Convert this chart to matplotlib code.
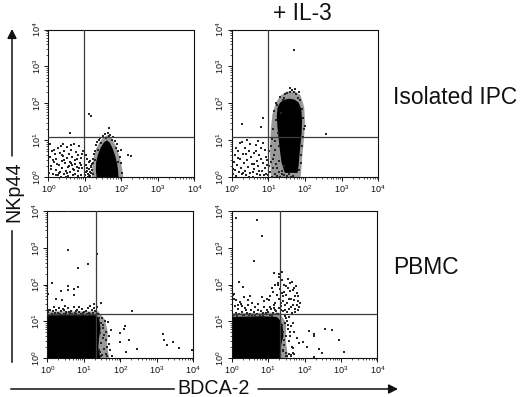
import numpy as np
import matplotlib
matplotlib.use("Agg")
import matplotlib.pyplot as plt
from matplotlib.ticker import LogLocator, FixedLocator, NullFormatter

plt.rcParams['font.family'] = ['Liberation Sans', 'DejaVu Sans']
plt.rcParams['mathtext.fontset'] = 'custom'
plt.rcParams['mathtext.rm'] = 'Liberation Sans'
plt.rcParams['mathtext.default'] = 'regular'

# All coordinates are log10 fluorescence values.
tick_exponents = [0, 1, 2, 3, 4]
x_label = "BDCA-2"
y_label = "NKp44"
top_title = "+ IL-3"
row_labels = ["Isolated IPC", "PBMC"]

a_gate = [0.98, 1.09]
a_core_x = [1.32, 1.3, 1.31, 1.36, 1.43, 1.52, 1.6, 1.68, 1.76, 1.83, 1.88, 1.91, 1.92]
a_core_y = [0.0, 0.2, 0.42, 0.62, 0.8, 0.94, 1.0, 0.94, 0.78, 0.58, 0.38, 0.18, 0.0]
a_halo_x = [1.2, 1.2, 1.24, 1.31, 1.4, 1.51, 1.62, 1.73, 1.85, 1.95, 2.02, 2.05]
a_halo_y = [0.0, 0.25, 0.55, 0.78, 0.95, 1.08, 1.14, 1.06, 0.85, 0.55, 0.25, 0.0]
a_dots_x = [.03, .05, .07, .1, .12, .15, .18, .2, .22, .25, .27, .3, .31, .33, .35, .37, .38, .4, .42, .44, .45, .47, .5, .52, .53, .55, .57, .58, .6, .62, .64, .65, .67, .7, .72, .74, .75, .77, .8, .82, .84, .86, .88, .9, .92, .94,
            .08, .16, .24, .28, .36, .43, .48, .56, .63, .68, .73, .79, .85, .91, .04, .13, .21, .34, .41, .51, .61, .71, .81, .89,
            1.0, 1.02, 1.04, 1.06, 1.08, 1.1, 1.12, 1.14, 1.16, 1.18, 1.2, 1.22, 1.03, 1.07, 1.11, 1.15, 1.19, 1.05, 1.09, 1.13, 1.17, 1.21,
            1.25, 1.22, 1.3, 1.27, 1.33, 1.38, 1.42, 1.49, 1.55, 1.62, 1.7, 1.76, 1.82, 1.87, 1.91, 1.95, 1.98, 2.02, 1.9, 1.85, 1.29, 1.35, 1.45, 1.58, 1.66, 1.74,
            1.12, 1.17, 1.66, 0.59, 2.18, 2.27, 2.0]
a_dots_y = [.12, .55, .3, .72, .08, .42, .62, .2, .5, .78, .05, .34, .66, .15, .85, .45, .25, .58, .1, .7, .38, .18, .52, .82, .28, .04, .64, .42, .13, .75, .33, .56, .22, .9, .47, .1, .68, .29, .6, .16, .86, .4, .06, .53, .24, .72,
            .22, .74, .36, .12, .6, .48, .02, .31, .88, .07, .37, .5, .26, .64, .9, .48, .07, .02, .9, .12, .4, .2, .03, .33,
            .05, .32, .15, .5, .1, .22, .42, .03, .28, .12, .36, .08, .6, .18, .07, .44, .2, .24, .02, .13, .3, .5,
            .62, .38, .88, .7, .95, 1.02, 1.07, 1.12, 1.18, 1.2, 1.15, 1.08, .98, .9, .72, .55, .38, .12, .42, .8, .46, .75, .92, 1.06, 1.12, 1.0,
            1.71, 1.65, 1.33, 1.2, .6, .58, .75]

b_gate = [1.0, 1.09]
b_core_x = [1.45, 1.36, 1.32, 1.28, 1.25, 1.23, 1.25, 1.32, 1.44, 1.58, 1.72, 1.83, 1.9, 1.92, 1.91, 1.88, 1.85, 1.83, 1.8]
b_core_y = [0.12, 0.4, 0.7, 1.05, 1.35, 1.65, 1.88, 2.02, 2.1, 2.13, 2.1, 2.02, 1.85, 1.55, 1.2, 0.9, 0.6, 0.35, 0.12]
b_halo_x = [1.08, 1.05, 1.05, 1.07, 1.11, 1.2, 1.32, 1.5, 1.72, 1.88, 1.98, 2.0, 1.98, 1.95, 1.92, 1.9, 1.88]
b_halo_y = [0.0, 0.45, 0.9, 1.3, 1.7, 2.0, 2.2, 2.32, 2.33, 2.22, 1.9, 1.5, 1.15, 0.8, 0.5, 0.2, 0.0]
b_dots_x = [.03, .06, .08, .1, .13, .15, .17, .2, .23, .25, .28, .3, .33, .35, .37, .4, .42, .44, .47, .5, .52, .55, .57, .6, .62, .65, .68, .7, .72, .75, .78, .8, .83, .85, .88, .9, .93, .95, .97, .12, .22, .32, .41, .51, .61, .71, .81, .91, .04, .18, .27, .38, .46, .58, .66, .74, .86, .96,
            1.0, 1.02, 1.05, 1.08, 1.1, 1.13, 1.16, 1.19, 1.22, 1.25, 1.28, 1.33, 1.38, 1.43, 1.5, 1.56, 1.62, 1.68, 1.03, 1.07, 1.12, 1.18, 1.24, 1.3, 1.36, 1.42,
            1.1, 1.14, 1.18, 1.22, 1.27, 1.3, 1.35, 1.4, 1.46, 1.52, 1.58, 1.64, 1.7, 1.76, 1.82, 1.87, 1.92, 1.95, 1.98, 1.94, 1.92, 1.9, 1.88, 1.85, 1.15, 1.2, 1.25, 1.32, 1.44, 1.6, 1.72, 1.85,
            1.7, .29, 2.58, 2.0, .85, .8]
b_dots_y = [.08, .42, .2, .6, .03, .33, .7, .14, .5, .26, .08, .63, .38, .18, .8, .05, .47, .28, .72, .12, .55, .35, .02, .66, .22, .88, .1, .45, .3, .6, .07, .78, .18, .4, .05, .25, .55, .1, .33, .78, .92, .12, 1.0, .9, .36, .97, .5, .75, .22, .53, .96, .62, .02, .15, .72, .16, .93, .46,
            .05, .3, .13, .42, .02, .24, .6, .08, .35, .03, .15, .02, .1, .06, .03, .08, .02, .04, .7, .86, .5, .75, .25, .45, .18, .3,
            1.05, 1.3, .98, 1.55, 1.2, .85, 1.75, 2.1, 2.25, 2.28, 2.3, 2.36, 2.32, 2.25, 2.15, 2.1, 1.85, 1.6, 1.3, 1.1, .85, .6, .4, .2, 1.8, 2.0, 1.95, 2.18, 2.15, 2.42, 2.38, 2.3,
            3.45, 1.43, 1.16, 1.38, 1.6, 1.35]

c_gate = [1.34, 1.21]
c_core_x = [0.0, 0.0, 1.2, 1.34, 1.42, 1.46, 1.42, 1.4, 1.43, 1.45]
c_core_y = [0.0, 1.17, 1.17, 1.16, 1.08, 0.8, 0.55, 0.3, 0.12, 0.0]
c_halo_x = [0.0, 0.0, 1.4, 1.58, 1.66, 1.64, 1.66, 1.7]
c_halo_y = [0.0, 1.27, 1.27, 1.05, 0.7, 0.4, 0.2, 0.0]
c_dots_x = [.02, .05, .08, .12, .15, .18, .22, .25, .28, .32, .35, .38, .42, .45, .48, .52, .55, .58, .62, .65, .68, .72, .75, .78, .82, .85, .88, .92, .95, .98, 1.02, 1.05, 1.08, 1.12, 1.15, 1.18, 1.22, 1.25, 1.28, 1.32, 1.36, 1.4,
            .1, .2, .3, .4, .5, .6, .7, .8, .9, 1.0, 1.1, 1.2, 1.3, .06, .26, .46, .66, .86, 1.06,
            1.42, 1.46, 1.5, 1.54, 1.58, 1.62, 1.66, 1.7, 1.74, 1.44, 1.48, 1.52, 1.56, 1.6, 1.64, 1.68, 1.45, 1.5, 1.55, 1.6, 1.65, 1.72, 1.78, 1.43, 1.47, 1.53,
            1.47, 1.28, 1.18,
            .55, .56, .83, 1.11, 1.36, .14, .57, .58, .85, .72, .72, .37, .23, .03, .39, 2.32, 2.14, 2.11, 1.98, 1.98, 2.25, 2.17, 2.47, 3.16, 3.19, 3.45, 3.28, 3.62, 3.97]
c_dots_y = [1.25, 1.18, 1.32, 1.2, 1.28, 1.38, 1.18, 1.3, 1.22, 1.36, 1.19, 1.27, 1.33, 1.2, 1.42, 1.26, 1.18, 1.35, 1.22, 1.29, 1.19, 1.38, 1.24, 1.2, 1.31, 1.18, 1.26, 1.2, 1.34, 1.22, 1.18, 1.28, 1.2, 1.36, 1.24, 1.19, 1.3, 1.22, 1.35, 1.28, 1.4, 1.2,
            1.16, 1.22, 1.16, 1.16, 1.22, 1.26, 1.16, 1.28, 1.16, 1.26, 1.16, 1.16, 1.18, 1.3, 1.16, 1.3, 1.16, 1.38, 1.16,
            1.08, .95, 1.1, .82, 1.02, .72, .98, .6, .75, .68, .4, .55, .25, .5, .3, .38, .15, .08, .62, .12, .06, .22, .05, .22, .06, .9,
            1.5, 1.48, 1.42,
            4.0, 2.94, 2.45, 2.56, 2.83, 2.05, 1.95, 1.85, 1.94, 1.87, 1.73, 1.83, 1.62, 1.75, 1.57, 1.28, .86, .79, .69, .44, .48, .15, .25, .66, .48, .44, .36, .27, .21]

d_gate = [1.33, 1.21]
d_core_x = [0.0, 0.0, 0.8, 1.24, 1.34, 1.4, 1.42, 1.38, 1.34, 1.32, 1.34]
d_core_y = [0.0, 1.12, 1.14, 1.12, 1.02, 0.85, 0.6, 0.45, 0.25, 0.1, 0.0]
d_halo_x = [0.0, 0.0, 1.3, 1.5, 1.48, 1.52, 1.55]
d_halo_y = [0.0, 1.22, 1.24, 0.95, 0.5, 0.2, 0.0]
d_dots_x = [.02, .05, .09, .13, .17, .21, .25, .29, .33, .37, .41, .45, .49, .53, .57, .61, .65, .69, .73, .77, .81, .85, .89, .93, .97, 1.01, 1.05, 1.09, 1.13, 1.17, 1.21, 1.25, 1.29,
            .07, .15, .23, .31, .39, .47, .55, .63, .71, .79, .87, .95, 1.03, 1.11, 1.19, 1.27, .04, .11, .18, .28, .35, .9, .98, 1.06, 1.14, 1.2,
            1.3, 1.33, 1.36, 1.39, 1.42, 1.45, 1.48, 1.51, 1.54, 1.57, 1.6, 1.63, 1.66, 1.69, 1.72, 1.75, 1.78, 1.81, 1.84, 1.87, 1.31, 1.34, 1.37, 1.4, 1.43, 1.46, 1.49, 1.52, 1.55, 1.58, 1.61, 1.64, 1.67, 1.7, 1.73, 1.76, 1.79, 1.82,
            1.28, 1.31, 1.34, 1.37, 1.4, 1.43, 1.46, 1.49, 1.52, 1.55, 1.58, 1.61, 1.65, 1.69, 1.75, 1.82, 1.2, 1.24, 1.27, 1.16, 1.1, 1.05,
            1.38, 1.42, 1.46, 1.5, 1.54, 1.58, 1.62, 1.66, 1.7, 1.8, 1.85, 1.4, 1.44, 1.48, 1.52, 1.56, 1.6, 1.64, 1.68, 1.72, 1.4, 1.44, 1.5, 1.56, 1.62, 1.68,
            .11, .69, .82, .6, 1.17, .21, .32, .05, .5, .46, .83, 2.57, 2.75, 2.25, 2.25, 2.11, 2.95, 3.09, 2.39, 1.97, 2.06, 2.25, 2.48]
d_dots_y = [1.3, 1.18, 1.42, 1.22, 1.34, 1.2, 1.48, 1.26, 1.18, 1.36, 1.22, 1.44, 1.2, 1.3, 1.18, 1.26, 1.38, 1.2, 1.32, 1.18, 1.28, 1.22, 1.4, 1.2, 1.3, 1.26, 1.18, 1.34, 1.22, 1.45, 1.28, 1.2, 1.36,
            1.6, 1.15, 1.52, 1.16, 1.3, 1.16, 1.5, 1.18, 1.46, 1.16, 1.14, 1.24, 1.58, 1.15, 1.3, 1.2, 1.72, 1.58, 1.45, 1.42, 1.65, 1.55, 1.62, 1.7, 1.8, 1.98,
            1.62, 1.88, 1.42, 2.12, 1.7, 1.3, 1.95, 1.5, 2.15, 1.34, 1.82, 1.6, 2.08, 1.45, 1.92, 1.68, 1.78, 1.55, 1.4, 1.5, 2.2, 1.3, 1.78, 1.55, 2.0, 1.44, 1.72, 1.26, 1.9, 1.6, 2.05, 1.4, 1.85, 1.58, 1.34, 1.95, 1.45, 1.7,
            1.98, 2.28, 1.5, 2.35, 1.28, 1.8, 1.15, 1.08, 1.0, .9, 1.12, .7, 1.22, .95, 1.25, 1.3, 1.5, 1.72, 2.05, 1.35, 1.9, 1.4,
            .9, .72, .95, .6, .8, .45, .88, .3, .7, .55, .4, .2, .36, .14, .05, .1, .6, .08, .28, .12, .22, .5, .05, .1, .06, .14,
            3.82, 3.75, 3.34, 2.65, 2.32, 2.07, 1.94, 1.75, 1.7, 1.57, 1.66, .8, .77, .66, .59, .73, .48, .15, .25, .44, .3, .03, .14]

panels = [
    ((48.4, 29.5, 194.4, 177.3), a_gate, a_core_x, a_core_y, a_halo_x, a_halo_y, a_dots_x, a_dots_y),
    ((231.7, 29.5, 378.2, 177.3), b_gate, b_core_x, b_core_y, b_halo_x, b_halo_y, b_dots_x, b_dots_y),
    ((47.3, 211.3, 193.2, 358.0), c_gate, c_core_x, c_core_y, c_halo_x, c_halo_y, c_dots_x, c_dots_y),
    ((231.7, 211.3, 377.4, 358.0), d_gate, d_core_x, d_core_y, d_halo_x, d_halo_y, d_dots_x, d_dots_y),
]

W, H = 520, 397
fig = plt.figure(figsize=(W / 100, H / 100), dpi=100, facecolor='white')
ink = '#111111'


def fx(px):
    return px / W


def fy(py):
    return 1 - py / H


def dec(values):
    return np.power(10.0, np.asarray(values, dtype=float))


for box, gate, cx, cy, hx, hy, dx, dy in panels:
    l, t, r, b = box
    ax = fig.add_axes([fx(l), fy(b), (r - l) / W, (b - t) / H])
    ax.set_xscale('log')
    ax.set_yscale('log')
    ax.set_xlim(1, 1e4)
    ax.set_ylim(1, 1e4)
    ax.fill(dec(hx), dec(hy), color='#000000', alpha=0.4, lw=0, zorder=1)
    ax.fill(dec(cx), dec(cy), color='#000000', lw=0, zorder=2)
    ax.scatter(dec(dx), dec(dy), s=0.8, marker='s', color='#262626', linewidths=0, zorder=3)
    ax.axvline(10 ** gate[0], color='#3c3c3c', lw=0.9, zorder=4)
    ax.axhline(10 ** gate[1], color='#3c3c3c', lw=0.9, zorder=4)
    for side in ('top', 'right', 'left', 'bottom'):
        ax.spines[side].set_linewidth(0.8)
        ax.spines[side].set_color(ink)
    for axis in (ax.xaxis, ax.yaxis):
        axis.set_major_locator(FixedLocator([10.0 ** k for k in tick_exponents]))
        axis.set_major_formatter(plt.FixedFormatter([f"$10^{{{k}}}$" for k in tick_exponents]))
        axis.set_minor_locator(LogLocator(base=10, subs=np.arange(2, 10), numticks=10))
        axis.set_minor_formatter(NullFormatter())
    ax.tick_params(which='major', length=2.6, width=0.7, color=ink, labelsize=6.5, labelcolor=ink, top=False, right=False)
    ax.tick_params(which='minor', length=1.5, width=0.5, color=ink, top=False, right=False)
    ax.tick_params(axis='x', which='major', pad=2.0)
    ax.tick_params(axis='y', which='major', pad=1.5, labelrotation=90)
    for lab in ax.get_yticklabels():
        lab.set_va('center')

# Axis titles and row labels
fig.text(fx(302), fy(13), top_title, fontsize=16.4, ha='center', va='center', color=ink)
fig.text(fx(393), fy(98), row_labels[0], fontsize=16.4, ha='left', va='center', color=ink)
fig.text(fx(393), fy(268), row_labels[1], fontsize=16.4, ha='left', va='center', color=ink)
fig.text(fx(14), fy(192), y_label, fontsize=14.2, rotation=90, ha='center', va='center', color=ink)
fig.text(fx(214), fy(389), x_label, fontsize=14.2, ha='center', va='center', color=ink)

# Axis arrows
arrow_kw = dict(arrowstyle='-|>,head_length=0.55,head_width=0.28', color=ink, lw=1.1, shrinkA=0, shrinkB=0, mutation_scale=10)
fig.add_artist(matplotlib.patches.FancyArrowPatch((fx(12), fy(156)), (fx(12), fy(29)), transform=fig.transFigure, **arrow_kw))
fig.add_artist(matplotlib.lines.Line2D([fx(12), fx(12)], [fy(231), fy(362)], color=ink, lw=1.1))
fig.add_artist(matplotlib.lines.Line2D([fx(11), fx(174)], [fy(389), fy(389)], color=ink, lw=1.1))
fig.add_artist(matplotlib.patches.FancyArrowPatch((fx(258), fy(389)), (fx(398), fy(389)), transform=fig.transFigure, **arrow_kw))

fig.savefig('out.png', dpi=100, facecolor='white')
